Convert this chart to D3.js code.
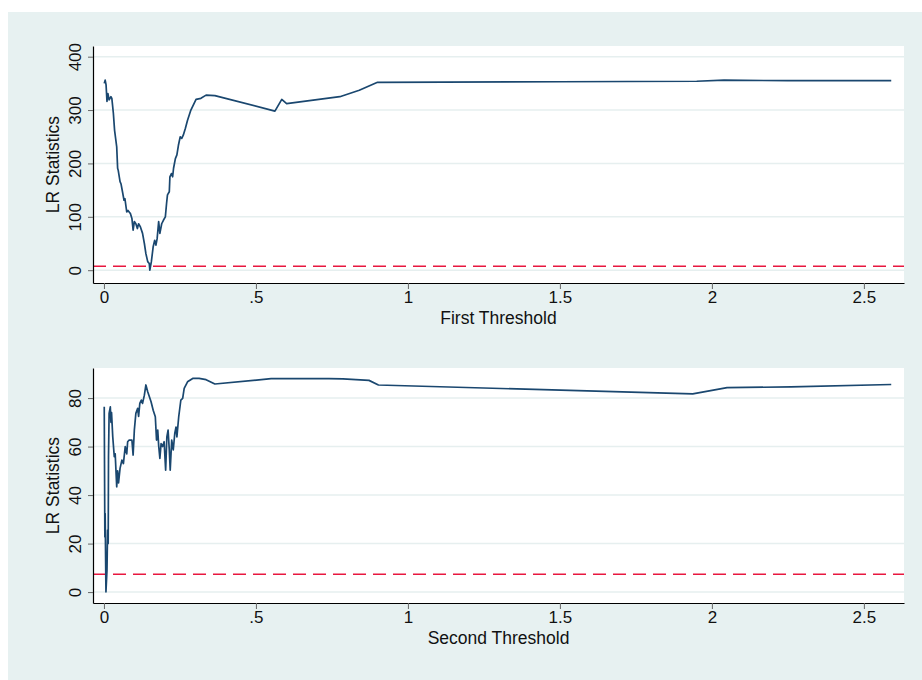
<!DOCTYPE html>
<html>
<head>
<meta charset="utf-8">
<script src="https://cdn.jsdelivr.net/npm/d3@7"></script>
<style>
  html, body { margin: 0; padding: 0; background: #fff; }
  text { font-family: "Liberation Sans", Arial, sans-serif; fill: #111; }
</style>
</head>
<body>
<svg id="chart" width="922" height="680"></svg>
<script>
// first threshold search: LR statistic by threshold value
const firstX = [0.001, 0.004, 0.007, 0.010, 0.013, 0.017, 0.023, 0.026, 0.031, 0.035, 0.042, 0.045, 0.047,
  0.053, 0.056, 0.061, 0.066, 0.069, 0.075, 0.079, 0.087, 0.092, 0.096, 0.100, 0.105, 0.110, 0.114, 0.120,
  0.127, 0.133, 0.138, 0.144, 0.149, 0.151, 0.156, 0.162, 0.167, 0.171, 0.175, 0.180, 0.184, 0.190, 0.196,
  0.202, 0.206, 0.209, 0.215, 0.217, 0.222, 0.226, 0.229, 0.235, 0.240, 0.245, 0.251, 0.256, 0.261, 0.268,
  0.275, 0.286, 0.303, 0.319, 0.336, 0.365, 0.5625, 0.585, 0.601, 0.776, 0.84, 0.90, 1.5, 1.95, 2.04, 2.25, 2.59]
const firstLR = [350, 356, 347, 316, 331, 319, 325, 322, 294, 262, 231, 191, 187,
  166, 162, 147, 131, 134, 109, 112, 106, 97, 75, 91, 87, 78, 87, 81,
  69, 50, 31, 16, 12.5, 0, 16, 44, 56, 47, 59, 91, 69, 87, 94,
  100, 125, 141, 147, 175, 181, 175, 191, 209, 216, 234, 250, 247, 253, 266,
  281, 300, 320, 322, 328, 327, 298, 320, 312, 325, 337, 352, 353, 354, 356, 355, 355]

// second threshold search
const secondX = [0.001, 0.003, 0.004, 0.0066, 0.010, 0.012, 0.014, 0.015, 0.017, 0.021, 0.023, 0.025, 0.029,
  0.034, 0.037, 0.042, 0.045, 0.048, 0.053, 0.059, 0.064, 0.070, 0.075, 0.078, 0.083, 0.092, 0.096, 0.100,
  0.105, 0.111, 0.114, 0.118, 0.123, 0.127, 0.133, 0.138, 0.144, 0.155, 0.162, 0.169, 0.173, 0.177, 0.180,
  0.184, 0.188, 0.193, 0.198, 0.203, 0.207, 0.211, 0.215, 0.218, 0.223, 0.228, 0.233, 0.237, 0.240, 0.246,
  0.253, 0.259, 0.264, 0.275, 0.292, 0.313, 0.336, 0.365, 0.55, 0.74, 0.786, 0.872, 0.903, 1.937, 2.05, 2.26, 2.59]
const secondLR = [76.4, 22.8, 32.4, 0.1, 9, 25.6, 20, 55.8, 73.7, 76.4, 70, 74, 64,
  55.8, 57, 43.4, 50, 45, 51, 54.4, 53, 60, 57, 62, 62.7, 62.7, 56.5, 66.8,
  73.7, 75.8, 72.4, 77.8, 79.2, 77.8, 81.2, 85.4, 82.6, 78.5, 75, 72.3, 62.7, 66.8, 60.5,
  55.1, 61.2, 60, 62, 50.3, 64, 66.8, 58.6, 50.3, 62.7, 58.6, 65.4, 68, 64, 72.3,
  79.2, 79.9, 84, 86.7, 88.1, 88.1, 87.6, 85.8, 88.0, 88.0, 87.9, 87.3, 85.4, 81.7, 84.3, 84.6, 85.6]

const critValue = 7.35
const xTicks = [0, 0.5, 1, 1.5, 2, 2.5]
const xTickLabels = ['0', '.5', '1', '1.5', '2', '2.5']
const firstTicks = [0, 100, 200, 300, 400]
const secondTicks = [0, 20, 40, 60, 80]

const lineColor = '#1a476f'
const bgColor = '#e7f1f1'
const gridColor = '#e6efef'

const svg = d3.select('#chart')
svg.append('rect')
    .attr('x', 8).attr('y', 12)
    .attr('width', 914).attr('height', 668)
    .attr('fill', bgColor)

function panel(opts) {
    const left = 93, right = 904
    const x = d3.scaleLinear().domain([-0.036, 2.632]).range([left, right])
    const y = d3.scaleLinear().domain(opts.yDomain).range([opts.bottom, opts.top])
    const g = svg.append('g')

    g.append('rect')
        .attr('x', left).attr('y', opts.top)
        .attr('width', right - left).attr('height', opts.bottom - opts.top)
        .attr('fill', '#fff')

    // horizontal grid
    g.selectAll('.grid')
        .data(opts.yTicks)
        .enter()
        .append('line')
        .attr('x1', left).attr('x2', right)
        .attr('y1', d => y(d)).attr('y2', d => y(d))
        .attr('stroke', gridColor)
        .attr('stroke-width', 1.5)

    // critical value
    g.append('line')
        .attr('x1', left).attr('x2', right)
        .attr('y1', y(critValue)).attr('y2', y(critValue))
        .attr('stroke', '#e8173f')
        .attr('stroke-width', 1.3)
        .attr('stroke-dasharray', '13,7')

    const line = d3.line().x(d => x(d[0])).y(d => y(d[1]))
    g.append('path')
        .datum(opts.xs.map((v, i) => [v, opts.ys[i]]))
        .attr('d', line)
        .attr('fill', 'none')
        .attr('stroke', lineColor)
        .attr('stroke-width', 1.7)
        .attr('stroke-linejoin', 'round')

    // x axis
    const xAxis = d3.axisBottom(x)
        .tickValues(xTicks)
        .tickFormat((d, i) => xTickLabels[i])
        .tickSize(6)
        .tickSizeOuter(0)
    const gx = g.append('g')
        .attr('transform', `translate(0,${opts.bottom})`)
        .call(xAxis)
    gx.select('.domain').attr('stroke', '#000').attr('stroke-width', 1.2)
    gx.selectAll('.tick line').attr('stroke', '#666')
    gx.selectAll('.tick text')
        .attr('y', 8)
        .attr('font-size', 17)
        .attr('font-family', '"Liberation Sans", Arial, sans-serif')
        .attr('fill', '#111')

    // y axis, labels turned like stata draws them
    const yAxis = d3.axisLeft(y)
        .tickValues(opts.yTicks)
        .tickSize(5)
        .tickSizeOuter(0)
    const gy = g.append('g')
        .attr('transform', `translate(${left},0)`)
        .call(yAxis)
    gy.select('.domain').attr('stroke', '#000').attr('stroke-width', 1.2)
    gy.selectAll('.tick line').attr('stroke', '#666')
    gy.selectAll('.tick text')
        .attr('x', null).attr('dy', null)
        .attr('text-anchor', 'middle')
        .attr('transform', 'translate(-12,0) rotate(-90)')
        .attr('font-size', 17)
        .attr('font-family', '"Liberation Sans", Arial, sans-serif')
        .attr('fill', '#111')

    g.append('text')
        .attr('x', (left + right) / 2)
        .attr('y', opts.bottom + 41)
        .attr('text-anchor', 'middle')
        .attr('font-size', 17.5)
        .text(opts.xTitle)

    g.append('text')
        .attr('transform', `translate(59,${(opts.top + opts.bottom) / 2}) rotate(-90)`)
        .attr('text-anchor', 'middle')
        .attr('font-size', 17.5)
        .text('LR Statistics')
}

panel({ top: 46, bottom: 283, yDomain: [-24, 420], yTicks: firstTicks,
    xs: firstX, ys: firstLR, xTitle: 'First Threshold' })
panel({ top: 368, bottom: 603, yDomain: [-4.5, 92.4], yTicks: secondTicks,
    xs: secondX, ys: secondLR, xTitle: 'Second Threshold' })
</script>
</body>
</html>
